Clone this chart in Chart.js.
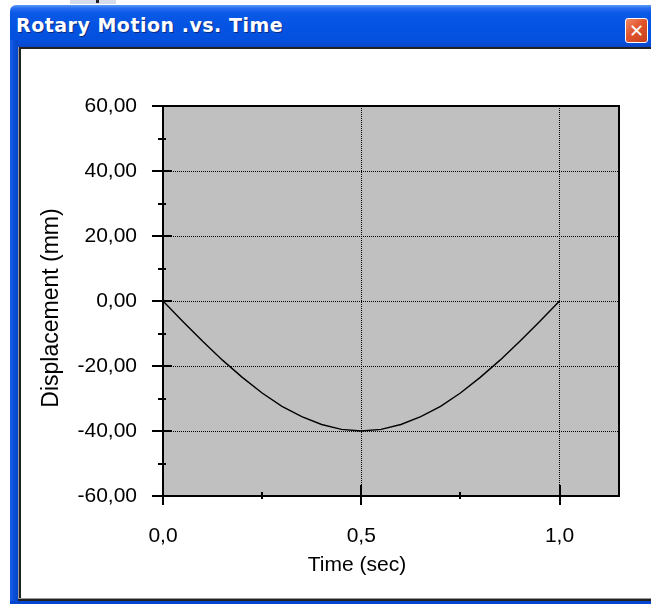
<!DOCTYPE html>
<html>
<head>
<meta charset="utf-8">
<script src="https://cdn.jsdelivr.net/npm/chart.js@4.4.1/dist/chart.umd.min.js"></script>
<style>
  html, body { margin: 0; padding: 0; background: #fff; }
  body { width: 651px; height: 604px; position: relative; overflow: hidden; }
  .abs { position: absolute; }
  #titlebar { left: 10px; top: 5px; width: 641px; height: 42px;
    background: linear-gradient(to bottom, #5d9cf8 0px, #2a6ff0 3px, #0a58e6 8px, #0553e2 22px, #0450de 36px, #0a46c8 42px);
    border-top-left-radius: 6px; }
  #titletext { left: 16px; top: 14px; color: #fff; font: bold 19px "DejaVu Sans", sans-serif; letter-spacing: 0.5px;
    text-shadow: 1px 1px 0 #0a2a80; white-space: nowrap; }
  #leftb { left: 10px; top: 40px; width: 8px; height: 564px; background: linear-gradient(to right, #1a5ee8, #0a4fd8 50%, #0446c8); }
  #botb { left: 10px; top: 601px; width: 641px; height: 3px; background: #0446d0; }
  #innerl { left: 18px; top: 47px; width: 1px; height: 554px; background: #9a9a9a; }
  #innerl2 { left: 19px; top: 47px; width: 2px; height: 554px; background: #222; }
  #innert { left: 18px; top: 47px; width: 633px; height: 2px; background: #222; }
  #innerb { left: 18px; top: 598px; width: 633px; height: 1px; background: #9a9a9a; }
  #innerb2 { left: 18px; top: 599px; width: 633px; height: 2px; background: #222; }
  #close { left: 625px; top: 18px; width: 21px; height: 23px; border: 1px solid #fff; border-radius: 3px;
    background: linear-gradient(135deg, #f08a64, #e0542c 45%, #c8401c); }
  #close span { position: absolute; left: 0; top: 0; width: 21px; height: 23px; color: #fff;
    font: bold 18px "DejaVu Sans", sans-serif; text-align: center; line-height: 23px; }
  #topart { left: 70px; top: 0px; width: 46px; height: 4px; background: #d6dcec; }
  #topdot { left: 96px; top: 0px; width: 3px; height: 3px; background: #222; }
  #chart { position: absolute; left: 0; top: 0; }
</style>
</head>
<body>
<div class="abs" id="topart"></div>
<div class="abs" id="topdot"></div>
<div class="abs" id="titlebar"></div>
<div class="abs" id="titletext">Rotary Motion .vs. Time</div>
<div class="abs" id="close"><span>✕</span></div>
<div class="abs" id="leftb"></div>
<div class="abs" id="botb"></div>
<div class="abs" id="innert"></div>
<div class="abs" id="innerl"></div>
<div class="abs" id="innerl2"></div>
<div class="abs" id="innerb"></div>
<div class="abs" id="innerb2"></div>
<canvas id="chart" width="651" height="604"></canvas>
<script>
// ---- data ----
const timeValues = [0, 0.05, 0.10, 0.15, 0.20, 0.25, 0.30, 0.35, 0.40, 0.45, 0.50,
                    0.55, 0.60, 0.65, 0.70, 0.75, 0.80, 0.85, 0.90, 0.95, 1.00];
const displacementValues = [0, -6.3, -12.4, -18.2, -23.5, -28.3, -32.4, -35.6, -38.0, -39.5, -40.0,
                            -39.5, -38.0, -35.6, -32.4, -28.3, -23.5, -18.2, -12.4, -6.3, 0];
const xMajorTicks = [0, 0.5, 1.0];
const xMajorLabels = ['0,0', '0,5', '1,0'];
const xMinorTicks = [0.25, 0.75];
const yMajorTicks = [-60, -40, -20, 0, 20, 40, 60];
const yMajorLabels = ['-60,00', '-40,00', '-20,00', '0,00', '20,00', '40,00', '60,00'];
const yMinorTicks = [-50, -30, -10, 10, 30, 50];
const xTitle = 'Time (sec)';
const yTitle = 'Displacement (mm)';

const points = timeValues.map((t, i) => ({ x: t, y: displacementValues[i] }));
const isMajor = (arr, v) => arr.some(a => Math.abs(a - v) < 1e-9);

const FAMILY = '"Liberation Sans", Arial, sans-serif';
const FONT = { family: FAMILY, size: 21 };

const plotDeco = {
  id: 'plotDeco',
  beforeDraw(chart) {
    const { ctx, chartArea: a } = chart;
    ctx.save();
    ctx.fillStyle = '#c0c0c0';
    ctx.fillRect(a.left, a.top, a.right - a.left, a.bottom - a.top);
    ctx.restore();
  },
  afterDraw(chart) {
    const { ctx, chartArea: a, scales } = chart;
    ctx.save();
    ctx.strokeStyle = '#000';
    ctx.lineWidth = 2;
    ctx.strokeRect(a.left, a.top, a.right - a.left, a.bottom - a.top);
    ctx.beginPath();
    scales.y.ticks.forEach(t => {
      const y = Math.round(scales.y.getPixelForValue(t.value));
      if (isMajor(yMajorTicks, t.value)) { ctx.moveTo(a.left - 11, y); ctx.lineTo(a.left + 9, y); }
      else { ctx.moveTo(a.left - 5, y); ctx.lineTo(a.left + 3, y); }
    });
    scales.x.ticks.forEach(t => {
      const x = Math.round(scales.x.getPixelForValue(t.value));
      if (isMajor(xMajorTicks, t.value)) { ctx.moveTo(x, a.bottom - 11); ctx.lineTo(x, a.bottom + 9); }
      else { ctx.moveTo(x, a.bottom - 4); ctx.lineTo(x, a.bottom + 3); }
    });
    ctx.stroke();

    // axis titles
    ctx.fillStyle = '#000';
    ctx.textAlign = 'center';
    ctx.textBaseline = 'middle';
    ctx.font = '21px ' + FAMILY;
    ctx.fillText(xTitle, a.left + 194, a.bottom + 69);
    ctx.save();
    ctx.translate(52, (a.top + a.bottom) / 2 + 7);
    ctx.rotate(-Math.PI / 2);
    ctx.font = '23px ' + FAMILY;
    ctx.fillText(yTitle, 0, 0);
    ctx.restore();
    ctx.restore();
  }
};

new Chart(document.getElementById('chart'), {
  type: 'scatter',
  data: {
    datasets: [{
      data: points,
      showLine: true,
      borderColor: '#000',
      borderWidth: 1.4,
      pointRadius: 0,
      tension: 0,
      fill: false
    }]
  },
  options: {
    responsive: false,
    animation: false,
    devicePixelRatio: 1,
    layout: { padding: { left: 0, top: 106, right: 32, bottom: 0 } },
    plugins: { legend: { display: false }, tooltip: { enabled: false } },
    scales: {
      x: {
        type: 'linear', min: 0, max: 1.15,
        afterBuildTicks: s => { s.ticks = [...xMajorTicks, ...xMinorTicks].sort((a, b) => a - b).map(v => ({ value: v })); },
        afterFit: s => { s.height = 108; },
        ticks: {
          autoSkip: false, maxRotation: 0, color: '#000', font: FONT, padding: 28,
          callback: v => { const i = xMajorTicks.findIndex(m => Math.abs(m - v) < 1e-9); return i >= 0 ? xMajorLabels[i] : ''; }
        },
        grid: {
          drawTicks: false,
          lineWidth: 1,
          color: c => (c.tick && isMajor(xMajorTicks, c.tick.value) && c.tick.value !== 0) ? '#000' : 'rgba(0,0,0,0)'
        },
        border: { display: false, dash: [1, 1] },
        title: { display: false, text: xTitle }
      },
      y: {
        type: 'linear', min: -60, max: 60,
        afterBuildTicks: s => { s.ticks = [...yMajorTicks, ...yMinorTicks].sort((a, b) => a - b).map(v => ({ value: v })); },
        afterFit: s => { s.width = 163; },
        ticks: {
          autoSkip: false, color: '#000', font: FONT, padding: 26,
          callback: v => { const i = yMajorTicks.findIndex(m => Math.abs(m - v) < 1e-9); return i >= 0 ? yMajorLabels[i] : ''; }
        },
        grid: {
          drawTicks: false,
          lineWidth: 1,
          color: c => (c.tick && isMajor(yMajorTicks, c.tick.value) && Math.abs(c.tick.value) !== 60) ? '#000' : 'rgba(0,0,0,0)'
        },
        border: { display: false, dash: [1, 1] },
        title: { display: false, text: yTitle }
      }
    }
  },
  plugins: [plotDeco]
});
</script>
</body>
</html>
